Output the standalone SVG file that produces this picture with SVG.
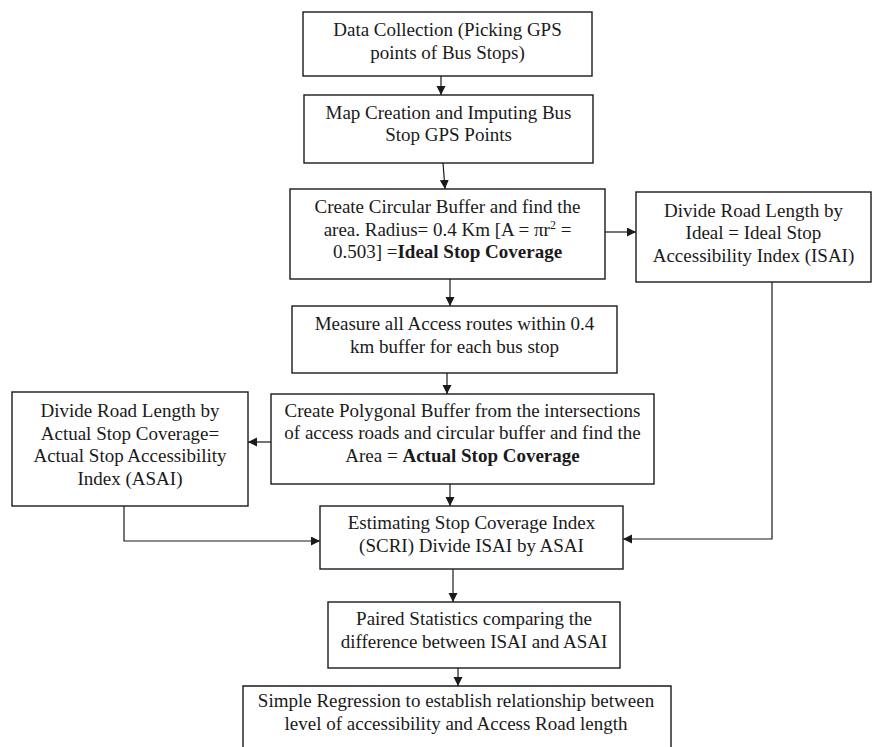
<svg xmlns="http://www.w3.org/2000/svg" width="872" height="747" viewBox="0 0 872 747">
<style>
.box{fill:#fff;stroke:#1a1a1a;stroke-width:1.4}
.t{font-family:"Liberation Serif","Times New Roman",serif;font-size:19px;fill:#1a1a1a;text-anchor:middle}
.b{font-weight:bold}
.c{fill:none;stroke:#1a1a1a;stroke-width:1.2}
</style>
<defs>
<marker id="ah" markerUnits="userSpaceOnUse" markerWidth="10" markerHeight="10" refX="9" refY="4.5" orient="auto">
<path d="M0,0 L9,4.5 L0,9 z" fill="#1a1a1a"/>
</marker>
</defs>
<rect width="872" height="747" fill="#fff"/>
<g id="n1">
<rect class="box" x="303" y="12" width="289" height="64"/>
<text class="t" x="447.5" y="36">Data Collection (Picking GPS</text>
<text class="t" x="447.5" y="58.5">points of Bus Stops)</text>
</g>
<g id="n2">
<rect class="box" x="304" y="95" width="289" height="68"/>
<text class="t" x="448.5" y="118.5">Map Creation and Imputing Bus</text>
<text class="t" x="448.5" y="141">Stop GPS Points</text>
</g>
<g id="n3">
<rect class="box" x="290" y="189" width="315" height="90"/>
<text class="t" x="447.5" y="213">Create Circular Buffer and find the</text>
<text class="t" x="447.5" y="235.5">area. Radius= 0.4 Km [A = πr<tspan font-size="12" dy="-7">2</tspan><tspan dy="7"> =</tspan></text>
<text class="t" x="447.5" y="258">0.503] =<tspan class="b">Ideal Stop Coverage</tspan></text>
</g>
<g id="n5">
<rect class="box" x="636" y="192" width="235" height="90"/>
<text class="t" x="753.5" y="216.5">Divide Road Length by</text>
<text class="t" x="753.5" y="239">Ideal = Ideal Stop</text>
<text class="t" x="753.5" y="261.5">Accessibility Index (ISAI)</text>
</g>
<g id="n4">
<rect class="box" x="292" y="306" width="325" height="67"/>
<text class="t" x="454.5" y="330">Measure all Access routes within 0.4</text>
<text class="t" x="454.5" y="352.5">km buffer for each bus stop</text>
</g>
<g id="n7">
<rect class="box" x="271" y="394" width="383" height="90"/>
<text class="t" x="462.5" y="416.5">Create Polygonal Buffer from the intersections</text>
<text class="t" x="462.5" y="439">of access roads and circular buffer and find the</text>
<text class="t" x="462.5" y="461.5">Area = <tspan class="b">Actual Stop Coverage</tspan></text>
</g>
<g id="n6">
<rect class="box" x="12" y="392" width="236" height="114"/>
<text class="t" x="130" y="416.5">Divide Road Length by</text>
<text class="t" x="130" y="439.5">Actual Stop Coverage=</text>
<text class="t" x="130" y="462">Actual Stop Accessibility</text>
<text class="t" x="130" y="484.5">Index (ASAI)</text>
</g>
<g id="n8">
<rect class="box" x="320" y="506" width="303" height="63"/>
<text class="t" x="471.5" y="528.5">Estimating Stop Coverage Index</text>
<text class="t" x="471.5" y="551.5">(SCRI) Divide ISAI by ASAI</text>
</g>
<g id="n9">
<rect class="box" x="328" y="602" width="292" height="66"/>
<text class="t" x="474" y="625">Paired Statistics comparing the</text>
<text class="t" x="474" y="648">difference between ISAI and ASAI</text>
</g>
<g id="n10">
<path class="box" d="M243,750 L243,686 L671,686 L671,750"/>
<text class="t" x="456" y="707">Simple Regression to establish relationship between</text>
<text class="t" x="456" y="729.5">level of accessibility and Access Road length</text>
</g>
<g id="connectors">
<line class="c" x1="441" y1="76" x2="441" y2="95" marker-end="url(#ah)"/>
<line class="c" x1="443" y1="163" x2="445" y2="189" marker-end="url(#ah)"/>
<line class="c" x1="605" y1="232" x2="636" y2="232" marker-end="url(#ah)"/>
<line class="c" x1="450" y1="279" x2="450" y2="306" marker-end="url(#ah)"/>
<line class="c" x1="447" y1="373" x2="447" y2="394" marker-end="url(#ah)"/>
<line class="c" x1="271" y1="442" x2="248" y2="442" marker-end="url(#ah)"/>
<line class="c" x1="450" y1="484" x2="450" y2="506" marker-end="url(#ah)"/>
<polyline class="c" points="124,506 124,541 320,541" marker-end="url(#ah)"/>
<polyline class="c" points="772,282 772,539 623,539" marker-end="url(#ah)"/>
<line class="c" x1="453" y1="569" x2="453" y2="602" marker-end="url(#ah)"/>
<line class="c" x1="458" y1="668" x2="458" y2="686" marker-end="url(#ah)"/>
</g>
</svg>
